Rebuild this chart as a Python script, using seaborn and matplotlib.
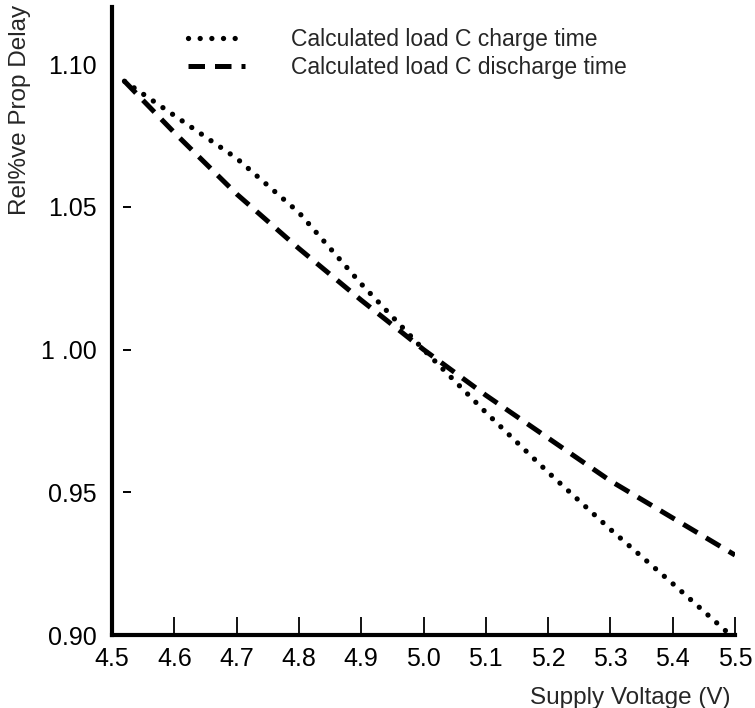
import matplotlib
matplotlib.use("Agg")
import matplotlib.pyplot as plt
import matplotlib.transforms as mtransforms
import seaborn as sns
import pandas as pd

# ---- data ----
charge_label = "Calculated load C charge time"
discharge_label = "Calculated load C discharge time"

charge_v = [4.52, 4.60, 4.70, 4.80, 4.90, 5.00, 5.10, 5.20, 5.30, 5.40, 5.49]
charge_delay = [1.094, 1.082, 1.067, 1.048, 1.023, 1.000, 0.978, 0.957, 0.937, 0.918, 0.9005]

discharge_v = [4.52, 4.60, 4.70, 4.80, 4.90, 5.00, 5.10, 5.20, 5.30, 5.40, 5.50]
discharge_delay = [1.094, 1.076, 1.0545, 1.0354, 1.0173, 1.000, 0.984, 0.969, 0.954, 0.941, 0.928]

x_ticks = [4.5, 4.6, 4.7, 4.8, 4.9, 5.0, 5.1, 5.2, 5.3, 5.4, 5.5]
x_tick_labels = ["4.5", "4.6", "4.7", "4.8", "4.9", "5.0", "5.1", "5.2", "5.3", "5.4", "5.5"]
y_ticks = [0.90, 0.95, 1.00, 1.05, 1.10]
y_tick_labels = ["0.90", "0.95", "1 .00", "1.05", "1.10"]
y_dash_ticks = [0.95, 1.00, 1.05]

x_label = "Supply Voltage (V)"
y_label = "Rel%ve Prop Delay"

df = pd.concat([
    pd.DataFrame({"v": charge_v, "delay": charge_delay, "series": charge_label}),
    pd.DataFrame({"v": discharge_v, "delay": discharge_delay, "series": discharge_label}),
], ignore_index=True)

# ---- style ----
sns.set_theme(style="white")
plt.rcParams["font.family"] = ["Liberation Sans", "DejaVu Sans"]

fig = plt.figure(figsize=(7.55, 7.08), dpi=100)
ax = fig.add_axes([112 / 755, 73 / 708, 623 / 755, 628 / 708])

sns.lineplot(
    data=df, x="v", y="delay", hue="series", style="series",
    hue_order=[charge_label, discharge_label],
    style_order=[charge_label, discharge_label],
    palette=["black", "black"],
    dashes={charge_label: (0.01, 2.2), discharge_label: (3.3, 2.0)},
    linewidth=3.7, sort=False, legend=False, ax=ax,
)
ax.lines[0].set_dash_capstyle("round")
ax.lines[0].set_linewidth(3.8)
ax.lines[1].set_dash_capstyle("butt")
ax.lines[1].set_linewidth(3.6)

ax.set_xlim(4.5, 5.5)
ax.set_ylim(0.90, 1.12)

for s in ["top", "right"]:
    ax.spines[s].set_visible(False)
for s in ["left", "bottom"]:
    ax.spines[s].set_linewidth(3.0)
    ax.spines[s].set_color("black")

ax.set_xticks(x_ticks)
ax.set_xticklabels(x_tick_labels)
ax.set_yticks(y_ticks)
ax.set_yticklabels(y_tick_labels)
ax.tick_params(axis="x", direction="in", length=13, width=1.3, color="black",
               labelsize=18, pad=9, bottom=True, labelcolor="black")
ax.tick_params(axis="y", length=0, labelsize=18, pad=11, left=True, labelcolor="black")
ax.set_xlabel("")
ax.set_ylabel("")

# short detached dash marks for the y ticks
trans = mtransforms.blended_transform_factory(ax.transAxes, ax.transData)
ax.plot([0.024] * len(y_dash_ticks), y_dash_ticks, linestyle="none", marker="_",
        markersize=6, markeredgewidth=1.4, color="black", transform=trans, clip_on=False)

leg = ax.legend(handles=ax.lines[:2], labels=[charge_label, discharge_label],
                loc="upper left", bbox_to_anchor=(0.122, 0.967), frameon=False,
                fontsize=16.5, handlelength=2.5, handletextpad=2.0, labelspacing=0.25,
                borderpad=0, borderaxespad=0)

fig.text(0.967, 0.014, x_label, ha="right", va="center", fontsize=17.5)
fig.text(0.027, 0.993, y_label, ha="center", va="top", rotation=90, fontsize=17.5)

fig.savefig("out.png", dpi=100)
